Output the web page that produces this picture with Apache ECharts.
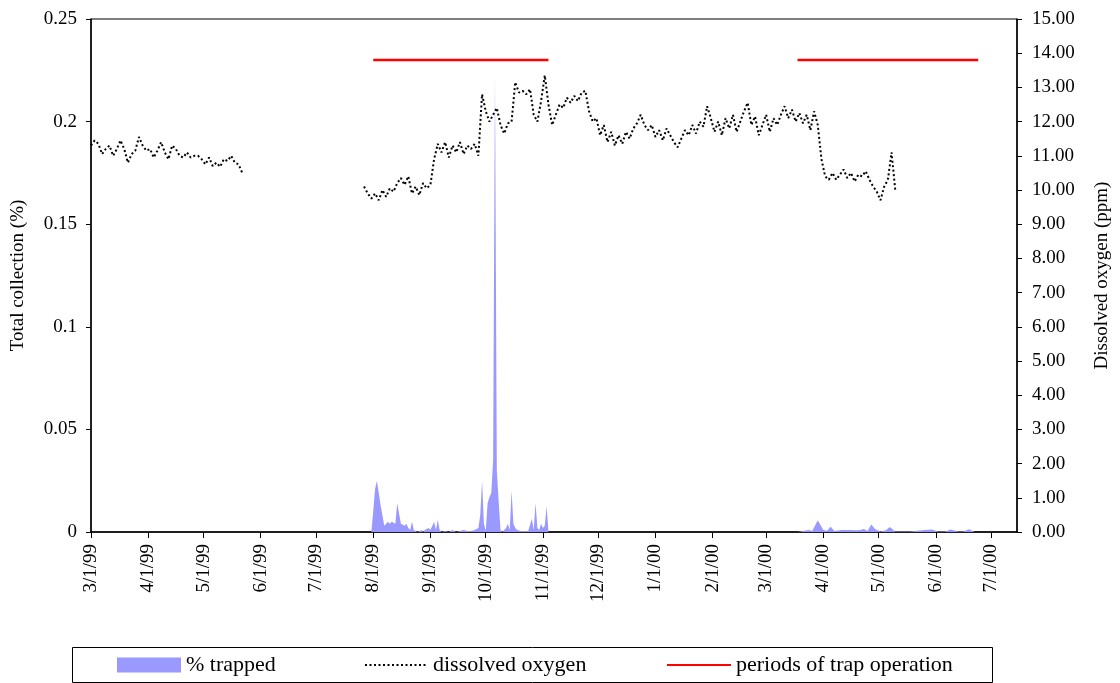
<!DOCTYPE html>
<html>
<head>
<meta charset="utf-8">
<script src="https://cdn.jsdelivr.net/npm/echarts@6/dist/echarts.min.js"></script>
<style>
html,body{margin:0;padding:0;background:#fff;}
#chart{width:1120px;height:683px;}
</style>
</head>
<body>
<div id="chart"></div>
<script>
// ---------- data ----------
const axisStart = '1999-03-01';
const axisEnd = '2000-07-15';
const tickDates = ['1999-03-01','1999-04-01','1999-05-01','1999-06-01','1999-07-01','1999-08-01','1999-09-01','1999-10-01','1999-11-01','1999-12-01','2000-01-01','2000-02-01','2000-03-01','2000-04-01','2000-05-01','2000-06-01','2000-07-01'];

// dissolved oxygen (ppm), one reading every 2 days
const doStepDays = 2;
const doSeg1Start = '1999-03-01';
const doSeg1 = [11.3,11.45,11.35,11.05,11.2,11.3,11.0,11.2,11.45,11.2,10.8,11.05,11.15,11.55,11.3,11.15,11.2,10.95,11.15,11.4,11.1,10.9,11.3,11.2,11.0,10.95,11.1,10.95,11.0,11.0,10.9,10.75,10.95,10.7,10.8,10.68,10.9,10.85,11.0,10.8,10.75,10.5];
const doSeg2Start = '1999-07-27';
const doSeg2 = [10.1,9.9,9.75,9.9,9.7,10.0,9.8,10.05,9.95,10.2,10.35,10.15,10.4,9.9,10.1,9.85,10.2,10.05,10.15,10.9,11.35,11.1,11.4,10.95,11.3,11.1,11.4,11.05,11.3,11.2,11.35,11.0,12.8,12.3,12.0,12.2,12.4,11.9,
11.65,11.95,12.0,13.15,12.85,12.9,12.8,12.95,12.2,12.0,12.6,13.35,12.5,11.9,12.2,12.5,12.4,12.7,12.55,12.75,12.6,12.85,12.9,12.3,12.0,12.1,11.6,11.9,11.4,11.7,11.3,11.6,11.35,11.7,11.5,11.8,11.95,12.2,11.9,11.75,11.9,11.55,11.75,11.45,11.8,11.6,11.4,11.25,11.5,11.75,11.6,11.9,11.65,12.0,11.85,12.45,12.1,11.7,12.0,11.6,12.1,11.8,12.2,11.7,12.0,12.3,12.55,11.9,12.15,11.6,11.9,12.2,11.7,12.1,
11.9,12.2,12.45,12.1,12.35,12.0,12.25,11.95,12.2,11.75,12.3,11.9,10.9,10.4,10.3,10.5,10.3,10.45,10.6,10.35,10.5,10.25,10.45,10.4,10.55,10.3,10.1,9.95,9.7,10.1,10.3,11.1,10.0];

// % trapped, period 1 daily from start date
const trap1Start = '1999-07-31';
const trap1 = [0,
0.010,0.021,0.025,0.019,0.013,0.008,0.003,0.004,0.005,0.004,0.005,0.005,0.004,0.014,0.014,0.004,0.004,0.003,0.004,0.002,0.001,0.005,0.001,0.0005,0,0.0005,0.001,0,0.001,0.0005,0.002,
0.001,0.0005,0.005,0.001,0.006,0.001,0,0.0005,0.0005,0.001,0,0.0005,0.001,0.0005,0,0.0005,0.0005,0.0005,0.001,0.0005,0.0005,0.001,0.0005,0.0005,0.001,0.0005,0.002,0.008,0.025,0.004,
0.0005,0.014,0.017,0.019,0.035,0.223,0.03,0.015,0.001,0,0.0005,0.002,0.004,0.001,0.020,0.004,0.002,0.001,0.001,0.0005,0.0005,0.0005,0,0.0005,0.001,0.0065,0.001,0.014,0.002,0.001,0.004,
0.002,0.003,0.0125,0];
// % trapped, period 2 readings
const trap2Dates = ['2000-03-18','2000-03-24','2000-03-26','2000-03-29','2000-04-01','2000-04-03','2000-04-05','2000-04-07','2000-04-11','2000-04-15','2000-04-19','2000-04-21','2000-04-23','2000-04-25','2000-04-27','2000-04-29','2000-05-02','2000-05-05','2000-05-07','2000-05-10','2000-05-18','2000-05-26','2000-05-30','2000-06-02','2000-06-06','2000-06-09','2000-06-13','2000-06-16','2000-06-19','2000-06-22'];
const trap2 = [0,0.001,0.0005,0.0057,0.001,0.0006,0.0026,0.0005,0.001,0.001,0.0008,0.001,0.0015,0.0005,0.0037,0.0015,0.0003,0.0008,0.0024,0.0003,0.0002,0.001,0.0012,0.0003,0.0003,0.0012,0.0003,0.0003,0.0013,0];

// periods of trap operation (drawn at a fixed level on the ppm axis)
const trapPeriods = [['1999-08-01','1999-11-04'],['2000-03-18','2000-06-24']];
const trapPeriodLevel = 13.8;

// ---------- helpers ----------
function ts(s, addDays) {
  const p = s.split('-').map(Number);
  return new Date(p[0], p[1]-1, p[2] + (addDays||0)).getTime();
}
function seriesFrom(start, step, vals) {
  return vals.map((v,i)=>[ts(start, i*step), v]);
}

const doData = seriesFrom(doSeg1Start, doStepDays, doSeg1)
  .concat([[ts('1999-06-20'), null]])
  .concat(seriesFrom(doSeg2Start, doStepDays, doSeg2));

const trapData = seriesFrom(trap1Start, 1, trap1)
  .concat([[ts('2000-01-01'), null]])
  .concat(trap2Dates.map((d,i)=>[ts(d), trap2[i]]));

const periodData = [];
trapPeriods.forEach((p, k) => {
  if (k > 0) periodData.push([ts('2000-01-01'), null]);
  periodData.push([ts(p[0]), trapPeriodLevel], [ts(p[1]), trapPeriodLevel]);
});

const tickTs = tickDates.map(d => ts(d));
const FONT = 'Liberation Serif';
const legendText = {fontFamily: FONT, fontSize: 22, color: '#000'};

const chart = echarts.init(document.getElementById('chart'), null, {renderer:'canvas'});
chart.setOption({
  animation: false,
  backgroundColor: '#fff',
  textStyle: {fontFamily: FONT, color: '#000'},
  grid: {left: 91, right: 95, top: 19, bottom: 151, show: true, borderColor: '#000', borderWidth: 1, containLabel: false},
  xAxis: {
    type: 'value',
    min: ts(axisStart), max: ts(axisEnd),
    axisLine: {show: true, onZero: false, lineStyle: {color: '#000', width: 1.5}},
    axisTick: {show: true, length: 6, lineStyle: {color: '#000'}, customValues: tickTs},
    axisLabel: {
      customValues: tickTs, rotate: 90, margin: 12,
      fontFamily: FONT, fontSize: 19, color: '#000',
      formatter: function (v) { const d = new Date(v); return (d.getMonth()+1) + '/' + d.getDate() + '/' + String(d.getFullYear()).slice(2); }
    },
    splitLine: {show: false}
  },
  yAxis: [{
    type: 'value', min: 0, max: 0.25, interval: 0.05, position: 'left',
    name: 'Total collection (%)', nameLocation: 'middle', nameRotate: 90, nameGap: 63,
    nameTextStyle: {fontFamily: FONT, fontSize: 19, color: '#000'},
    axisLine: {show: true, lineStyle: {color: '#000', width: 1.5}},
    axisTick: {show: true, length: 5, inside: false, lineStyle: {color: '#000'}},
    axisLabel: {fontFamily: FONT, fontSize: 19, color: '#000', margin: 14},
    splitLine: {show: false}
  }, {
    type: 'value', min: 0, max: 15, interval: 1, position: 'right',
    name: 'Dissolved oxygen (ppm)', nameLocation: 'middle', nameRotate: 90, nameGap: 76,
    nameTextStyle: {fontFamily: FONT, fontSize: 19, color: '#000'},
    axisLine: {show: true, lineStyle: {color: '#000', width: 1.5}},
    axisTick: {show: true, length: 5, inside: false, lineStyle: {color: '#000'}},
    axisLabel: {fontFamily: FONT, fontSize: 19, color: '#000', margin: 15, formatter: v => v.toFixed(2)},
    splitLine: {show: false}
  }],
  legend: [{
    data: [{name: '% trapped', icon: 'rect'}],
    left: 117, top: 654, padding: 0, itemWidth: 64, itemHeight: 15,
    textStyle: legendText
  }, {
    data: ['dissolved oxygen'],
    left: 364, top: 654, padding: 0, itemWidth: 63, itemHeight: 15,
    itemStyle: {opacity: 0},
    textStyle: legendText
  }, {
    data: ['periods of trap operation'],
    left: 666, top: 654, padding: 0, itemWidth: 64, itemHeight: 15,
    itemStyle: {opacity: 0},
    textStyle: legendText
  }],
  graphic: [{
    type: 'rect', left: 70, top: 645,
    shape: {width: 920, height: 35},
    style: {fill: 'none', stroke: '#000', lineWidth: 1}
  }],
  series: [{
    name: '% trapped', type: 'line', yAxisIndex: 0,
    data: trapData, showSymbol: false, symbol: 'none', connectNulls: false,
    lineStyle: {width: 0, color: '#9999FF'},
    itemStyle: {color: '#9999FF'},
    areaStyle: {color: '#9999FF', opacity: 1},
    z: 1
  }, {
    name: 'dissolved oxygen', type: 'line', yAxisIndex: 1,
    data: doData, showSymbol: false, symbol: 'none', connectNulls: false,
    lineStyle: {color: '#000', width: 2, type: [2, 2.5]},
    itemStyle: {color: '#000'},
    z: 3
  }, {
    name: 'periods of trap operation', type: 'line', yAxisIndex: 1,
    data: periodData, showSymbol: false, symbol: 'none', connectNulls: false,
    lineStyle: {color: '#FF0000', width: 2.5},
    itemStyle: {color: '#FF0000'},
    z: 4
  }]
});
</script>
</body>
</html>
